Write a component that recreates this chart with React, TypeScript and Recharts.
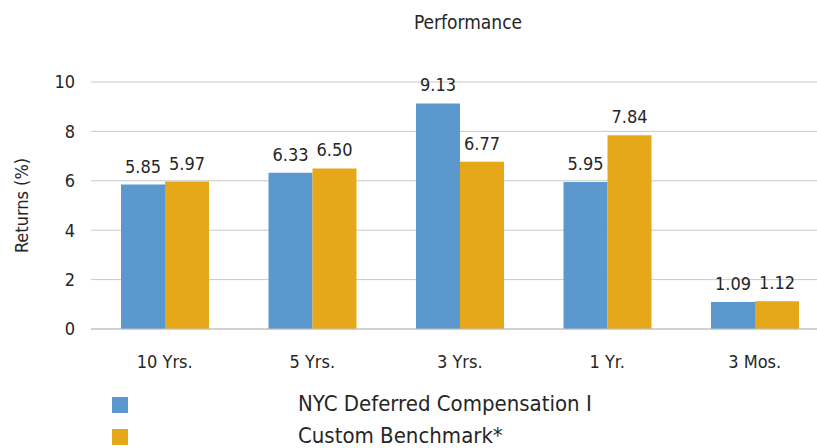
import React from 'react';
import { BarChart, Bar, XAxis, YAxis, CartesianGrid, LabelList, Legend } from 'recharts';

const categories = ['10 Yrs.', '5 Yrs.', '3 Yrs.', '1 Yr.', '3 Mos.'];
const nycValues = [5.85, 6.33, 9.13, 5.95, 1.09];
const benchmarkValues = [5.97, 6.5, 6.77, 7.84, 1.12];
const yTicks = [0, 2, 4, 6, 8, 10];
const seriesNames = ['NYC Deferred Compensation I', 'Custom Benchmark*'];

const data = categories.map((c, i) => ({ category: c, nyc: nycValues[i], bench: benchmarkValues[i] }));

const FONT = "'DejaVu Sans Condensed', 'DejaVu Sans', sans-serif";
const TEXT = '#262626';

const renderLegend = (props: any) => {
  const payload = [...(props.payload || [])].sort(
    (a: any, b: any) => seriesNames.indexOf(a.value) - seriesNames.indexOf(b.value)
  );
  return (
    <div style={{ position: 'relative', width: 817, height: 58 }}>
      {payload.map((p: any, i: number) => (
        <React.Fragment key={i}>
          <div style={{ position: 'absolute', left: 112, top: 7 + i * 32, width: 16, height: 16, background: p.color }} />
          <div style={{ position: 'absolute', left: 298, top: 2 + i * 32, fontSize: 22, lineHeight: '24px', whiteSpace: 'nowrap', color: TEXT, fontFamily: FONT }}>{p.value}</div>
        </React.Fragment>
      ))}
    </div>
  );
};

export default function App() {
  return (
    <div style={{ position: 'fixed', left: 0, top: 0, width: 817, height: 448, overflow: 'hidden', background: '#fff', fontFamily: FONT }}>
      <div style={{ position: 'absolute', left: 0, top: 12, width: 936, textAlign: 'center', fontSize: 19, lineHeight: '20px', color: TEXT }}>Performance</div>
      <BarChart width={830} height={448} data={data} margin={{ top: 82, right: 1.5, bottom: 31, left: 0 }} barCategoryGap={30} barGap={0}>
        <CartesianGrid vertical={false} stroke="#c8c8c8" />
        <XAxis dataKey="category" tickLine={false} tickSize={0} tickMargin={26} height={30} axisLine={{ stroke: '#c0c0c0' }} tick={{ fill: TEXT, fontSize: 18, fontFamily: FONT }} />
        <YAxis domain={[0, 10]} ticks={yTicks} axisLine={false} tickLine={false} tickSize={0} tickMargin={16} width={91} tick={{ fill: TEXT, fontSize: 18, fontFamily: FONT }}
          label={{ value: 'Returns (%)', angle: -90, position: 'insideLeft', offset: 22, style: { textAnchor: 'middle', fill: TEXT, fontSize: 18, fontFamily: FONT } }} />
        <Legend content={renderLegend} wrapperStyle={{ position: 'absolute', left: 0, top: 390, width: 817 }} />
        <Bar dataKey="nyc" name={seriesNames[0]} fill="#5B98CD" isAnimationActive={false}>
          <LabelList dataKey="nyc" position="top" offset={12} formatter={(v: any) => Number(v).toFixed(2)} style={{ fill: TEXT, fontSize: 18, fontFamily: FONT }} />
        </Bar>
        <Bar dataKey="bench" name={seriesNames[1]} fill="#E6A718" isAnimationActive={false}>
          <LabelList dataKey="bench" position="top" offset={12} formatter={(v: any) => Number(v).toFixed(2)} style={{ fill: TEXT, fontSize: 18, fontFamily: FONT }} />
        </Bar>
      </BarChart>
    </div>
  );
}
